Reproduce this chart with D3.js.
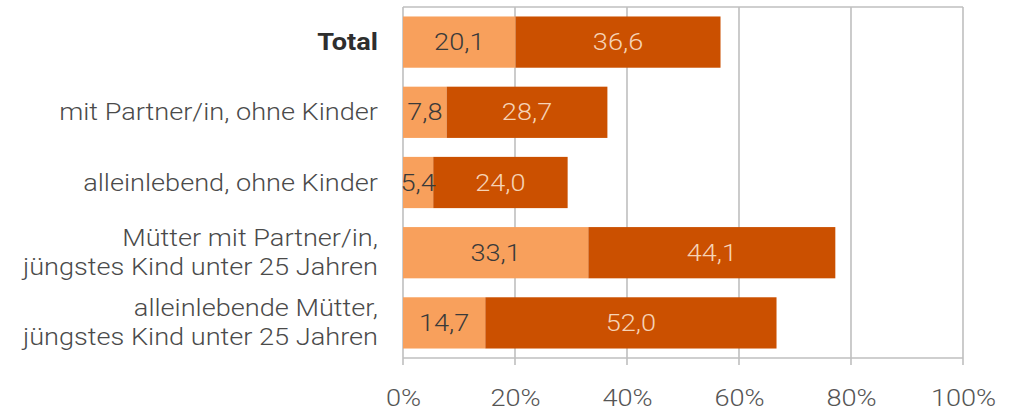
<!DOCTYPE html>
<html>
<head>
<meta charset="utf-8">
<script src="https://cdn.jsdelivr.net/npm/d3@7"></script>
<style>
  html, body { margin: 0; padding: 0; background: #fff; }
  svg { display: block; font-family: Roboto, "Noto Sans", sans-serif; }
</style>
</head>
<body>
<svg id="chart" width="1010" height="413"></svg>
<script>
// Categories (multi-line labels split on "\n")
const categories = [
  "Total",
  "mit Partner/in, ohne Kinder",
  "alleinlebend, ohne Kinder",
  "Mütter mit Partner/in,\njüngstes Kind unter 25 Jahren",
  "alleinlebende Mütter,\njüngstes Kind unter 25 Jahren"
];
const seriesA = [20.1, 7.8, 5.4, 33.1, 14.7];
const seriesB = [36.6, 28.7, 24.0, 44.1, 52.0];
const tickValues = [0, 20, 40, 60, 80, 100];
const tickLabels = ["0%", "20%", "40%", "60%", "80%", "100%"];

const colorA = "#f8a05c";
const colorB = "#cb5000";
const FONT = 23;      // text size
const SX = 1.18;      // horizontal widening of the glyphs

const svg = d3.select("#chart");
const margin = { left: 403, right: 47, top: 7, bottom: 55 };
const W = 1010, H = 413;
const innerW = W - margin.left - margin.right;
const innerH = H - margin.top - margin.bottom;

const x = d3.scaleLinear().domain([0, 100]).range([margin.left, margin.left + innerW]);
const y = d3.scaleBand().domain(categories).range([margin.top, margin.top + innerH]).paddingInner(0.27).paddingOuter(0.135);

const fmt = v => d3.format(".1f")(v).replace(".", ",");

// Grid lines and frame
const grid = svg.append("g");
grid.selectAll("line.v").data(tickValues).join("line")
  .attr("x1", d => x(d)).attr("x2", d => x(d))
  .attr("y1", margin.top).attr("y2", margin.top + innerH + 7)
  .attr("stroke", "#bfbfbf").attr("stroke-width", 1.6);
grid.append("line")
  .attr("x1", x(0)).attr("x2", x(100))
  .attr("y1", margin.top).attr("y2", margin.top)
  .attr("stroke", "#bfbfbf").attr("stroke-width", 1.6);
grid.append("line")
  .attr("x1", x(0)).attr("x2", x(100))
  .attr("y1", margin.top + innerH).attr("y2", margin.top + innerH)
  .attr("stroke", "#bfbfbf").attr("stroke-width", 1.6);

// Stacked bars
const rows = categories.map((c, i) => ({ c, a: seriesA[i], b: seriesB[i] }));
const bars = svg.append("g");
bars.selectAll("rect.a").data(rows).join("rect")
  .attr("x", x(0)).attr("y", d => y(d.c))
  .attr("width", d => x(d.a) - x(0)).attr("height", y.bandwidth())
  .attr("fill", colorA);
bars.selectAll("rect.b").data(rows).join("rect")
  .attr("x", d => x(d.a)).attr("y", d => y(d.c))
  .attr("width", d => x(d.a + d.b) - x(d.a)).attr("height", y.bandwidth())
  .attr("fill", colorB);

// Value labels
const labels = svg.append("g").attr("font-size", FONT).attr("font-weight", 300).attr("text-anchor", "middle");
labels.selectAll("text.a").data(rows).join("text")
  .attr("transform", d => `translate(${(x(0) + x(d.a)) / 2},${y(d.c) + y.bandwidth() / 2}) scale(${SX},1)`)
  .attr("dy", "0.35em")
  .attr("fill", "#3a3a3a")
  .text(d => fmt(d.a));
labels.selectAll("text.b").data(rows).join("text")
  .attr("transform", d => `translate(${(x(d.a) + x(d.a + d.b)) / 2},${y(d.c) + y.bandwidth() / 2}) scale(${SX},1)`)
  .attr("dy", "0.35em")
  .attr("fill", "#f6d3b6")
  .text(d => fmt(d.b));

// Category labels
const cat = svg.append("g").attr("font-size", FONT).attr("text-anchor", "end");
categories.forEach((c, i) => {
  const lines = c.split("\n");
  const cy = y(c) + y.bandwidth() / 2;
  const lh = 29;
  const t = cat.append("text")
    .attr("transform", `translate(378,${cy}) scale(${SX},1)`)
    .attr("fill", i === 0 ? "#2e2e2e" : "#4a4a4a")
    .attr("font-weight", i === 0 ? 700 : 300);
  lines.forEach((ln, j) => {
    t.append("tspan")
      .attr("x", 0)
      .attr("y", (j - (lines.length - 1) / 2) * lh)
      .attr("dy", "0.35em")
      .text(ln);
  });
});

// X axis tick labels
const axis = d3.axisBottom(x).tickValues(tickValues).tickFormat((d, i) => tickLabels[i]).tickSize(0).tickPadding(0);
const ax = svg.append("g").attr("transform", `translate(0, ${margin.top + innerH})`).call(axis);
ax.select(".domain").remove();
ax.selectAll("text")
  .attr("font-size", FONT).attr("font-weight", 300)
  .attr("font-family", "Roboto, sans-serif")
  .attr("fill", "#555")
  .attr("y", 32)
  .attr("transform", `scale(${SX},1)`);
</script>
</body>
</html>
